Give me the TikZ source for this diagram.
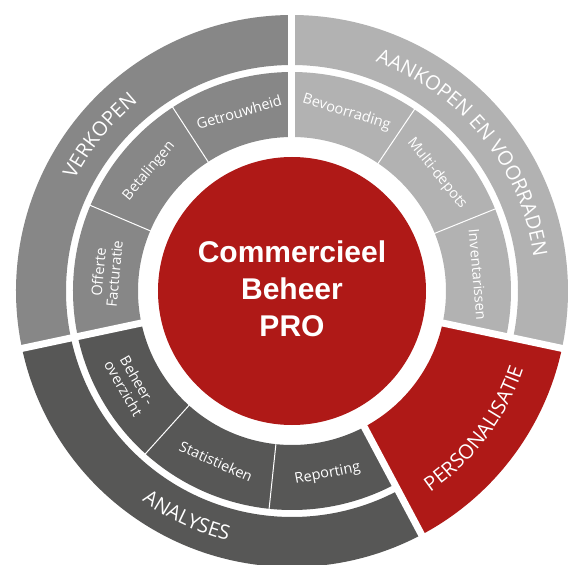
\documentclass[tikz,border=0pt]{standalone}
\usepackage{fontspec}
\setmainfont{Open Sans}
\newfontfamily\titelfont{Liberation Sans}
\usetikzlibrary{
  decorations.text % 沿圆弧排文字
}
\definecolor{verkoopgrijs}{HTML}{878787}
\definecolor{aankoopgrijs}{HTML}{B2B2B2}
\definecolor{analysegrijs}{HTML}{575756}
\definecolor{beheerrood}{HTML}{AF1917}
\newcommand{\ringfont}{\fontsize{20}{20}\selectfont}
% 环形扇区: 颜色, 起始角, 终止角, 内半径, 外半径
\newcommand{\ringsector}[5]{%
  \fill[#1] (#2:#4) arc[start angle=#2, end angle=#3, radius=#4]
    -- (#3:#5) arc[start angle=#3, end angle=#2, radius=#5] -- cycle;}
\tikzset{
  gap line/.style={
    white,
    line width=7pt
  },
  split line/.style={
    white,
    line width=1pt
  },
  inner label/.style={
    text=white,
    font=\fontsize{14.5}{16}\selectfont,
    align=center,
    inner sep=0pt
  },
  ring label/.style={
    decorate,
    decoration={text along path, text align=center, text color=white,
      text={|\ringfont|#1}}
  },
  centre label/.style={
    text=white,
    font=\titelfont\bfseries\fontsize{30}{37}\selectfont,
    align=center,
    inner sep=0pt
  }
}
\begin{document}
\begin{tikzpicture}[x=1pt, y=1pt]
    \useasboundingbox (-292,-274) rectangle (276,291);

    % --- 外环与内环 ---
    \ringsector{verkoopgrijs}{90}{192}{226}{276}
    \ringsector{verkoopgrijs}{90}{192}{154}{219}
    \ringsector{aankoopgrijs}{-12}{90}{226}{276}
    \ringsector{aankoopgrijs}{-12}{90}{154}{219}
    \ringsector{beheerrood}{-62}{-12}{154}{276}
    \ringsector{analysegrijs}{192}{298}{226}{276}
    \ringsector{analysegrijs}{192}{298}{154}{219}

    % 扇区之间的白色缝隙
    \foreach \ang in {90,192,-12,-62}
      \draw[gap line] (\ang:140) -- (\ang:285);
    \foreach \ang in {123,157,56,22,228,264}
      \draw[split line] (\ang:150) -- (\ang:222);

    % --- 中心圆 ---
    \fill[beheerrood] (0,0) circle[radius=134];
    \node[centre label] (titel) at (0,2) {Commercieel\\Beheer\\PRO};

    % --- 外环文字 ---
    \path[ring label=VERKOPEN] (192:244) arc[start angle=192, end angle=90, radius=244];
    \path[ring label={AANKOPEN EN VOORRADEN}] (90:244) arc[start angle=90, end angle=-12, radius=244];
    \path[ring label=PERSONALISATIE] (-62:244) arc[start angle=-62, end angle=-12, radius=244];
    \path[ring label=ANALYSES] (192:258) arc[start angle=192, end angle=298, radius=258];

    % --- 内环文字 ---
    \foreach \ang/\rot/\txt/\nm in {
        106.5/16.5/Getrouwheid/getrouw,
        140/50/Betalingen/betaal,
        174.5/84.5/{Offerte\\Facturatie}/offerte,
        73/-17/Bevoorrading/bevoorrad,
        39/-51/Multi-depots/depots,
        5/-85/Inventarissen/inventaris,
        210/-60/{Beheer-\\overzicht}/overzicht,
        246/-24/Statistieken/statistiek,
        281/11/Reporting/reporting} {
      \node[inner label, rotate=\rot] (\nm) at (\ang:186.5) {\txt};
    }

  \end{tikzpicture}
\end{document}
